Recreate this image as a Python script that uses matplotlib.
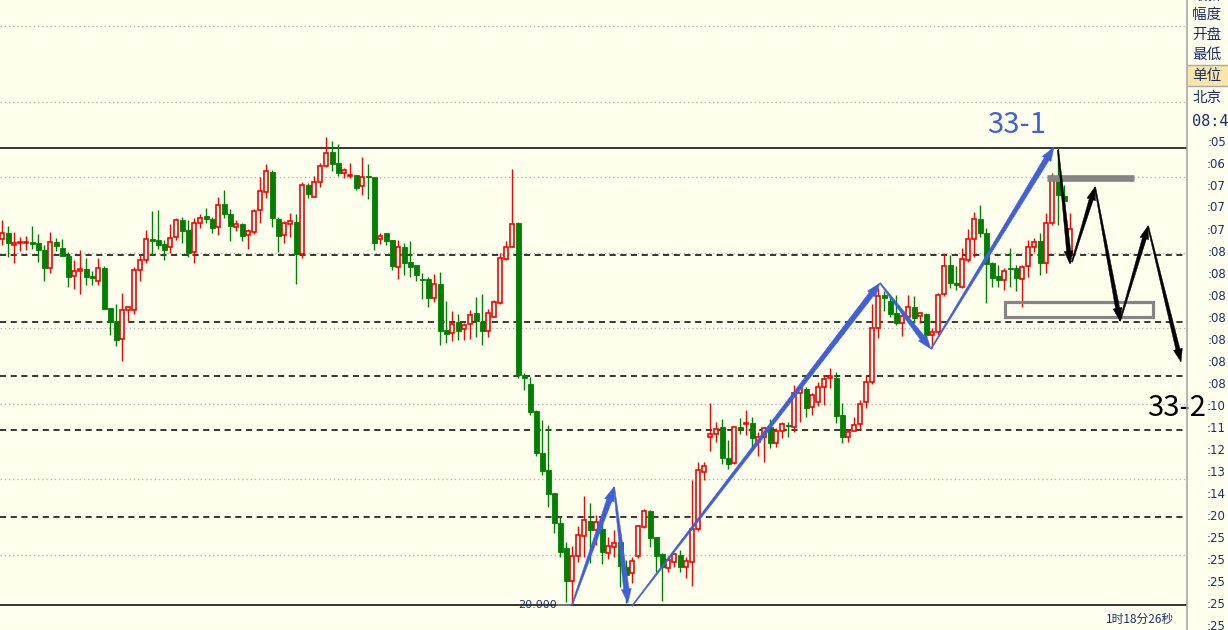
import matplotlib
matplotlib.use("Agg")
import matplotlib.pyplot as plt
import numpy as np
from matplotlib.patches import Polygon, Rectangle
from matplotlib.lines import Line2D

plt.rcParams['font.family'] = ['Noto Sans CJK SC', 'DejaVu Sans']

BG = "#FFFFEE"
UP = "#FF0000"
DOWN = "#008000"
BLUE = "#4060D8"
NAVY = "#1A2F6A"

# OHLC (one candle per bar)
opens = [
    23.66, 23.72, 23.60, 23.62, 23.62, 23.63, 23.62, 23.55, 23.37, 23.63,
    23.57, 23.49, 23.29, 23.34, 23.36, 23.29, 23.24, 23.37, 22.97, 22.84,
    22.66, 22.95, 22.95, 23.35, 23.45, 23.66, 23.65, 23.61, 23.58, 23.68,
    23.85, 23.75, 23.53, 23.82, 23.89, 23.86, 23.78, 24.01, 23.91, 23.78,
    23.81, 23.70, 23.73, 23.95, 24.13, 24.33, 23.86, 23.70, 23.81, 23.83,
    23.51, 24.20, 24.08, 24.23, 24.39, 24.53, 24.42, 24.32, 24.29, 24.30,
    24.19, 24.29, 24.28, 23.66, 23.72, 23.65, 23.38, 23.58, 23.43, 23.40,
    23.26, 23.26, 23.07, 23.21, 22.75, 22.72, 22.83, 22.76, 22.81, 22.92,
    22.83, 22.74, 22.88, 23.02, 23.46, 23.58, 23.82, 22.30, 22.21, 21.94,
    21.52, 21.35, 21.12, 20.82, 20.57, 20.24, 20.49, 20.69, 20.84, 20.75,
    20.76, 20.52, 20.58, 20.63, 20.38, 20.32, 20.49, 20.78, 20.94, 20.68,
    20.51, 20.37, 20.43, 20.50, 20.38, 20.43, 20.76, 21.33, 21.68, 21.71,
    21.78, 21.47, 21.42, 21.78, 21.81, 21.82, 21.63, 21.68, 21.78, 21.62,
    21.74, 21.80, 21.78, 22.12, 22.16, 21.98, 22.03, 22.18, 22.27, 22.27,
    21.90, 21.68, 21.74, 21.81, 22.03, 22.23, 22.77, 23.10, 23.04, 22.92,
    22.82, 22.88, 22.98, 22.89, 22.91, 22.70, 22.73, 23.11, 23.40, 23.22,
    23.18, 23.45, 23.66, 23.86, 23.72, 23.42, 23.29, 23.25, 23.37, 23.37,
    23.26, 23.39, 23.58, 23.64, 23.42, 23.82, 24.25, 24.09, 23.50,
]
highs = [
    23.85, 23.79, 23.73, 23.68, 23.69, 23.79, 23.71, 23.60, 23.73, 23.67,
    23.66, 23.53, 23.45, 23.55, 23.47, 23.34, 23.47, 23.39, 22.97, 23.01,
    23.12, 22.99, 23.38, 23.50, 23.75, 23.94, 23.95, 23.65, 23.81, 23.87,
    23.88, 23.85, 23.87, 23.91, 23.97, 23.88, 24.08, 24.15, 23.96, 23.85,
    23.82, 23.76, 23.96, 24.28, 24.41, 24.35, 23.88, 23.84, 23.92, 23.91,
    24.23, 24.22, 24.29, 24.42, 24.68, 24.64, 24.61, 24.37, 24.42, 24.30,
    24.48, 24.41, 24.28, 23.72, 23.72, 23.65, 23.65, 23.62, 23.64, 23.40,
    23.32, 23.28, 23.31, 23.33, 23.04, 22.94, 22.91, 22.82, 22.95, 23.08,
    23.11, 22.96, 23.05, 23.52, 23.64, 24.36, 23.83, 22.32, 22.28, 21.95,
    21.85, 21.80, 21.12, 20.88, 20.63, 20.59, 20.79, 21.09, 21.02, 20.90,
    20.83, 20.68, 20.75, 20.72, 20.45, 20.48, 20.80, 20.96, 20.95, 20.68,
    20.52, 20.49, 20.52, 20.55, 20.48, 21.25, 21.43, 21.43, 22.02, 21.83,
    21.86, 21.65, 21.78, 21.87, 21.95, 21.88, 21.73, 21.78, 21.86, 21.77,
    21.83, 21.83, 22.20, 22.19, 22.18, 22.12, 22.23, 22.30, 22.37, 22.33,
    22.02, 21.76, 21.88, 22.05, 22.30, 23.01, 23.17, 23.14, 23.08, 23.10,
    22.92, 23.10, 23.09, 22.93, 22.92, 22.77, 23.12, 23.52, 23.50, 23.39,
    23.57, 23.76, 23.93, 24.00, 23.77, 23.43, 23.40, 23.37, 23.57, 23.40,
    23.40, 23.65, 23.67, 23.72, 23.92, 24.32, 24.57, 24.20, 23.92,
]
lows = [
    23.60, 23.48, 23.42, 23.54, 23.55, 23.56, 23.43, 23.24, 23.32, 23.54,
    23.49, 23.18, 23.16, 23.11, 23.20, 23.20, 23.20, 22.96, 22.70, 22.59,
    22.44, 22.84, 22.91, 23.24, 23.42, 23.50, 23.56, 23.45, 23.52, 23.65,
    23.62, 23.48, 23.42, 23.77, 23.82, 23.72, 23.70, 23.87, 23.64, 23.74,
    23.64, 23.56, 23.71, 23.82, 24.07, 23.78, 23.53, 23.62, 23.68, 23.21,
    23.47, 24.07, 24.08, 24.18, 24.38, 24.34, 24.29, 24.27, 24.27, 24.15,
    24.10, 24.06, 23.55, 23.61, 23.60, 23.35, 23.26, 23.30, 23.28, 23.24,
    23.06, 22.98, 23.03, 22.60, 22.62, 22.64, 22.65, 22.65, 22.66, 22.68,
    22.60, 22.68, 22.88, 23.01, 23.45, 23.58, 22.27, 22.15, 21.90, 21.49,
    21.30, 20.98, 20.72, 20.48, 20.03, 20.00, 20.43, 20.48, 20.42, 20.60,
    20.41, 20.46, 20.48, 20.18, 20.02, 20.22, 20.47, 20.77, 20.58, 20.33,
    20.04, 20.33, 20.38, 20.33, 20.27, 20.19, 20.74, 21.25, 21.54, 21.63,
    21.41, 21.36, 21.41, 21.71, 21.70, 21.58, 21.49, 21.43, 21.57, 21.58,
    21.67, 21.68, 21.73, 21.83, 21.88, 21.90, 21.99, 22.00, 22.17, 21.82,
    21.62, 21.63, 21.74, 21.76, 21.97, 22.21, 22.67, 22.94, 22.88, 22.80,
    22.69, 22.83, 22.82, 22.82, 22.68, 22.57, 22.70, 23.09, 23.17, 23.15,
    23.17, 23.43, 23.48, 23.68, 23.02, 23.18, 23.18, 23.15, 23.18, 23.14,
    22.98, 23.28, 23.53, 23.30, 23.32, 23.80, 23.80, 23.90, 23.42,
]
closes = [
    23.72, 23.62, 23.62, 23.63, 23.63, 23.61, 23.55, 23.37, 23.63, 23.59,
    23.49, 23.28, 23.34, 23.36, 23.28, 23.27, 23.37, 22.96, 22.83, 22.65,
    22.95, 22.98, 23.35, 23.45, 23.66, 23.64, 23.60, 23.55, 23.67, 23.85,
    23.74, 23.52, 23.82, 23.87, 23.86, 23.77, 24.00, 23.91, 23.79, 23.81,
    23.69, 23.74, 23.94, 24.14, 24.34, 23.87, 23.69, 23.82, 23.84, 23.51,
    24.20, 24.11, 24.23, 24.39, 24.52, 24.41, 24.32, 24.35, 24.30, 24.17,
    24.28, 24.28, 23.62, 23.69, 23.64, 23.39, 23.58, 23.42, 23.38, 23.30,
    23.25, 23.07, 23.21, 22.74, 22.71, 22.81, 22.74, 22.80, 22.90, 22.84,
    22.74, 22.92, 23.03, 23.47, 23.58, 23.81, 22.30, 22.27, 21.93, 21.52,
    21.34, 21.11, 20.82, 20.53, 20.24, 20.49, 20.70, 20.85, 20.75, 20.83,
    20.53, 20.59, 20.62, 20.39, 20.30, 20.44, 20.79, 20.94, 20.67, 20.49,
    20.38, 20.45, 20.51, 20.38, 20.44, 20.76, 21.35, 21.39, 21.71, 21.76,
    21.47, 21.41, 21.78, 21.76, 21.82, 21.67, 21.68, 21.77, 21.62, 21.74,
    21.81, 21.79, 22.12, 22.17, 21.97, 22.10, 22.18, 22.26, 22.29, 21.89,
    21.68, 21.73, 21.80, 22.01, 22.23, 22.77, 23.09, 23.07, 22.91, 22.82,
    22.89, 22.98, 22.87, 22.92, 22.70, 22.73, 23.10, 23.39, 23.22, 23.20,
    23.46, 23.66, 23.86, 23.72, 23.41, 23.27, 23.25, 23.34, 23.36, 23.27,
    23.38, 23.58, 23.63, 23.42, 23.82, 24.28, 24.10, 24.04, 23.76,
]

# price lines drawn across the chart
solid_levels = [24.57, 20.00]
dashed_levels = [23.50, 22.83, 22.29, 21.75, 20.88]
dotted_levels = [25.79, 25.03, 24.28, 23.52, 22.77, 22.01, 21.26, 20.50]

# hand drawn wave marks (bar index, price)
blue_arrows = [
    ((94.95, 20.00), (101.95, 21.18)),
    ((101.95, 21.18), (104.28, 20.02)),
    ((104.95, 19.99), (146.28, 23.22)),
    ((146.28, 23.22), (154.78, 22.56)),
    ((154.78, 22.56), (175.28, 24.58)),
]
black_arrows = [
    ((175.95, 24.55), (177.95, 23.41)),
    ((178.28, 23.43), (182.12, 24.18)),
    ((182.12, 24.18), (186.28, 22.84)),
    ((186.28, 22.84), (190.95, 23.79)),
    ((190.95, 23.79), (196.45, 22.43)),
]
gray_bar = (174.1, 188.6, 24.27)
gray_box = (167.1, 22.88, 191.8, 23.03)

side_labels = ["幅度", "开盘", "最低", "单位", "北京"]
axis_labels = [":05", ":06", ":07", ":07", ":07", ":08", ":08", ":08", ":08",
               ":08", ":08", ":08", ":10", ":11", ":12", ":13", ":14", ":20",
               ":25", ":25", ":25", ":25", ":25"]

W, H = 1228, 630
fig = plt.figure(figsize=(W / 100, H / 100), dpi=100, facecolor=BG)
ax = fig.add_axes([0, 0, 1187 / W, 1])
ax.set_facecolor(BG)
ax.set_xlim(-0.383, 197.45)
ax.set_ylim(19.75, 26.05)
ax.axis("off")

for lv in dotted_levels:
    ax.axhline(lv, color="#B8B8B8", lw=1.0, ls=(0, (1, 2)), zorder=1)
for lv in dashed_levels:
    ax.axhline(lv, color="black", lw=1.1, ls=(0, (4, 3)), zorder=1)
for lv in solid_levels:
    ax.axhline(lv, color="black", lw=1.1, zorder=1)

o = np.array(opens)
h = np.array(highs)
l = np.array(lows)
c = np.array(closes)
x = np.arange(len(o))
up = c > o
cols = np.where(up, UP, DOWN)

ax.vlines(x, l, h, colors=cols, lw=1.0, zorder=2)
body_lo = np.minimum(o, c)
body_h = np.maximum(np.abs(c - o), 0.01)
ax.bar(x[up], body_h[up], bottom=body_lo[up], width=0.7,
       facecolor=BG, edgecolor=UP, lw=1.2, zorder=3)
ax.bar(x[~up], body_h[~up], bottom=body_lo[~up], width=0.76,
       facecolor=DOWN, edgecolor=DOWN, lw=0.6, zorder=3)

ax.text(92.4, 20.0, "20.000", ha="right", va="center", fontsize=8,
        color=NAVY, family="DejaVu Sans", zorder=4)
ax.plot([92.5, 94.6], [20.0, 20.0], color="#808080", lw=1.2, zorder=4)


def taper_arrow(p0, p1, w0, w1, hl, hw, color):
    d0 = ax.transData.transform(p0)
    d1 = ax.transData.transform(p1)
    v = d1 - d0
    u = v / np.hypot(*v)
    n = np.array([-u[1], u[0]])
    base = d1 - u * hl
    pts = [d0 + n * w0 / 2, base + n * w1 / 2, base + n * hw / 2, d1,
           base - n * hw / 2, base - n * w1 / 2, d0 - n * w0 / 2]
    pts = ax.transData.inverted().transform(np.array(pts))
    ax.add_patch(Polygon(pts, closed=True, facecolor=color, edgecolor=color,
                         lw=0.3, zorder=6, clip_on=False))


for p0, p1 in blue_arrows:
    taper_arrow(p0, p1, 1.2, 5.5, 14, 10, BLUE)
for p0, p1 in black_arrows:
    taper_arrow(p0, p1, 1.2, 4.2, 13, 9, "black")

ax.hlines(gray_bar[2], gray_bar[0], gray_bar[1], color="#858585", lw=4.8,
          zorder=5)
ax.add_patch(Rectangle((gray_box[0], gray_box[1]), gray_box[2] - gray_box[0],
                       gray_box[3] - gray_box[1], fill=False,
                       edgecolor="#858585", lw=2.3, zorder=5))

ax.text(169.1, 24.80, "33-1", color=BLUE, fontsize=21, ha="center",
        va="center", zorder=7)
ax.text(195.7, 21.97, "33-2", color="black", fontsize=21, ha="center",
        va="center", zorder=7)


# right side panel, in pixel coordinates
def fx(px):
    return px / W


def fy(py):
    return 1 - py / H


fig.add_artist(Line2D([fx(1187), fx(1187)], [0, 1], color="#A8A8A8", lw=1.2))
fig.add_artist(Rectangle((fx(1188), fy(86)), 40 / W, 21 / H,
                         facecolor="#F8E6A6", edgecolor="none",
                         transform=fig.transFigure))
for yy in (65, 86):
    fig.add_artist(Line2D([fx(1188), 1], [fy(yy), fy(yy)], color="#A8A8A8",
                          lw=1.0))

fig.text(fx(1192), fy(-4), "最新", fontsize=10.5, color=NAVY, va="center")
for lab, yy in zip(side_labels, [15, 35, 55, 76, 98]):
    fig.text(fx(1192), fy(yy), lab, fontsize=10.5, color=NAVY, va="center")
fig.text(fx(1192), fy(121), "08:41", fontsize=11, color=NAVY, va="center",
         family="DejaVu Sans Mono")

for k, lab in enumerate(axis_labels):
    fig.text(fx(1226), fy(142 + 22 * k), lab, fontsize=8.5, color=NAVY,
             ha="right", va="center", family="DejaVu Sans")

fig.text(fx(1140), fy(619), "1时18分26秒", fontsize=8.5, color=NAVY,
         ha="center", va="center")

fig.savefig("out.png", dpi=100, facecolor=BG)
